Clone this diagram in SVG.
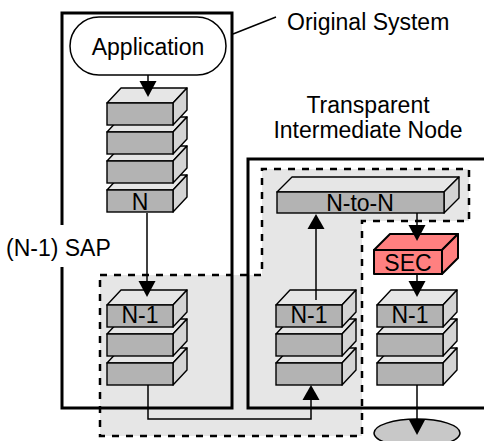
<svg xmlns="http://www.w3.org/2000/svg" xmlns:xlink="http://www.w3.org/1999/xlink" width="484" height="441" viewBox="0 0 484 441">
<defs>
<style>
text{font-family:"Liberation Sans",Arial,sans-serif;font-size:23px;fill:#000}
.mid{text-anchor:middle}
.front{fill:#b3b3b3;stroke:#000;stroke-width:1.4}
.top{fill:#e6e6e6;stroke:#000;stroke-width:1.4;stroke-linejoin:round}
.side{fill:#d4d4d4;stroke:#000;stroke-width:1.4;stroke-linejoin:round}
.sec{fill:#ff8080;stroke:#000;stroke-width:2;stroke-linejoin:round}
.frame{fill:none;stroke:#000;stroke-width:3}
.conn{fill:none;stroke:#000;stroke-width:1.5}
.head{fill:#000}
</style>
<path id="down" class="head" d="M-8.5,-16 L8.5,-16 L0,0 Z"/>
<path id="up" class="head" d="M-8.5,15 L8.5,15 L0,0 Z"/>
<g id="layer">
<path class="top" d="M0,0 H66 L80,-15 H14 Z"/>
<path class="side" d="M66,0 L80,-15 V7 L66,22 Z"/>
<rect class="front" x="0" y="0" width="66" height="22"/>
</g>
</defs>

<g id="sap-region">
<path d="M100,275 H262 V169 H469 V221 H362 V436 H100 Z" fill="#e6e6e6" stroke="#000" stroke-width="2.5" stroke-dasharray="7,7"/>
</g>

<g id="original-system">
<path class="frame" d="M62,225 V13 H232 V408 H62 V267"/>
</g>
<g id="intermediate-node">
<path class="frame" d="M490,159 H248 V408 H490"/>
</g>

<g id="labels">
<text x="287" y="30">Original System</text>
<text class="mid" x="368" y="113">Transparent</text>
<text class="mid" x="368" y="138">Intermediate Node</text>
<text x="6" y="256">(N-1) SAP</text>
</g>

<g id="application">
<rect x="70" y="17" width="156" height="58" rx="29" ry="29" fill="#fff" stroke="#000" stroke-width="1.5"/>
<text class="mid" x="148" y="55">Application</text>
</g>

<g id="stack-upper">
<use xlink:href="#layer" x="107" y="190"/>
<use xlink:href="#layer" x="107" y="161"/>
<use xlink:href="#layer" x="107" y="132"/>
<use xlink:href="#layer" x="107" y="103"/>
<text class="mid" x="140" y="210">N</text>
</g>

<g id="stack-lower-left">
<use xlink:href="#layer" x="107" y="363"/>
<use xlink:href="#layer" x="107" y="334"/>
<use xlink:href="#layer" x="107" y="305"/>
<text class="mid" x="140" y="323">N-1</text>
</g>

<g id="stack-middle">
<use xlink:href="#layer" x="276" y="363"/>
<use xlink:href="#layer" x="276" y="334"/>
<use xlink:href="#layer" x="276" y="305"/>
<text class="mid" x="309" y="323">N-1</text>
</g>

<g id="n-to-n">
<path class="top" d="M277,192 H444 L459,177 H292 Z"/>
<path class="side" d="M444,192 L459,177 V198 L444,213 Z"/>
<rect class="front" x="277" y="192" width="167" height="21"/>
<text class="mid" x="360" y="211">N-to-N</text>
</g>

<g id="sec">
<path class="sec" d="M374,250 H442 L458,234 H390 Z"/>
<path class="sec" d="M442,250 L458,234 V258 L442,274 Z"/>
<rect class="sec" x="374" y="250" width="68" height="24"/>
<text class="mid" x="408" y="271">SEC</text>
</g>

<g id="stack-right">
<use xlink:href="#layer" x="377" y="363"/>
<use xlink:href="#layer" x="377" y="334"/>
<use xlink:href="#layer" x="377" y="305"/>
<text class="mid" x="410" y="323">N-1</text>
</g>

<g id="sink">
<ellipse cx="417" cy="433" rx="43" ry="14" fill="#c8c8c8" stroke="#000" stroke-width="1.5"/>
</g>

<g id="connectors">
<line class="conn" x1="233" y1="34" x2="276" y2="17"/>
<line class="conn" x1="148" y1="75" x2="148" y2="83"/>
<use xlink:href="#down" x="148" y="97"/>
<line class="conn" x1="147" y1="213" x2="147" y2="283"/>
<use xlink:href="#down" x="147" y="297"/>
<polyline class="conn" points="148,385 148,419 311,419 311,398"/>
<use xlink:href="#up" x="311" y="385"/>
<line class="conn" x1="316" y1="300" x2="316" y2="227"/>
<use xlink:href="#up" x="316" y="214"/>
<line class="conn" x1="417" y1="213" x2="417" y2="227"/>
<use xlink:href="#down" x="417" y="241"/>
<line class="conn" x1="417" y1="275" x2="417" y2="283"/>
<use xlink:href="#down" x="417" y="297"/>
<line class="conn" x1="417" y1="385" x2="417" y2="421"/>
<use xlink:href="#down" x="417" y="435"/>
</g>
</svg>
